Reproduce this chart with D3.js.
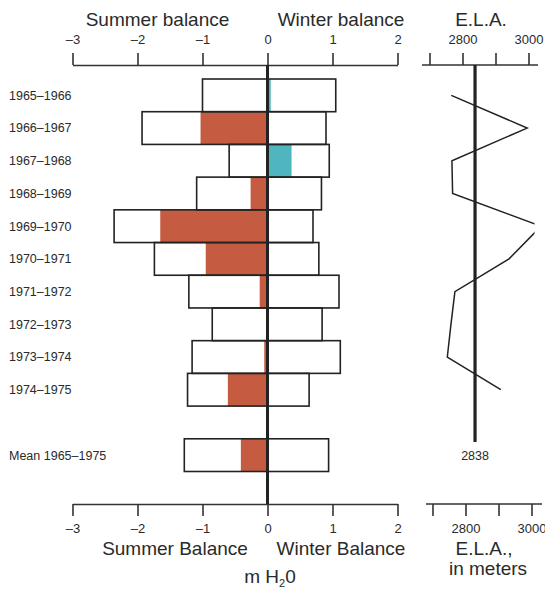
<!DOCTYPE html>
<html>
<head>
<meta charset="utf-8">
<script src="https://cdn.jsdelivr.net/npm/d3@7"></script>
<style>
  body { margin: 0; background: #fff; }
  svg { font-family: "Liberation Sans", Arial, sans-serif; }
  text { fill: #2a2a2a; }
</style>
</head>
<body>
<div id="chart"></div>
<script>
// Mass balance per year (m H2O) and equilibrium line altitude (m)
const years = ["1965–1966", "1966–1967", "1967–1968", "1968–1969", "1969–1970",
               "1970–1971", "1971–1972", "1972–1973", "1973–1974", "1974–1975"];
const summer = [-1.00, -1.93, -0.59, -1.09, -2.36, -1.74, -1.21, -0.85, -1.16, -1.23];
const winter = [1.05, 0.90, 0.95, 0.83, 0.70, 0.79, 1.10, 0.84, 1.12, 0.64];
const net = [0.05, -1.03, 0.37, -0.26, -1.65, -0.95, -0.12, -0.01, -0.05, -0.61];
const ela = [2766, 2996, 2768, 2770, 3038, 2941, 2777, 2765, 2754, 2916];

const meanLabel = "Mean 1965–1975";
const meanSummer = -1.28, meanWinter = 0.94, meanNet = -0.41, meanEla = 2838;

const balTicks = [-3, -2, -1, 0, 1, 2];
const elaTicks = [2700, 2800, 2900, 3000];
const elaLabelled = [2800, 3000];

const W = 545, H = 589;
const topAxisY = 65, bottomAxisY = 504;

const svg = d3.select("#chart").append("svg")
  .attr("width", W).attr("height", H);

// Scales
const x = d3.scaleLinear().domain([-3, 2]).range([72.5, 397.5]);
const xe = d3.scaleLinear().domain([2700, 3000]).range([429.5, 528.5]);
const y = d3.scaleBand()
  .domain([...years, "", meanLabel])
  .range([79, 471.5])
  .padding(0);

const fmt = d => d < 0 ? "–" + (-d) : String(d);

// Rows: all years plus mean
const rows = years.map((yr, i) => ({label: yr, s: summer[i], w: winter[i], n: net[i]}));
rows.push({label: meanLabel, s: meanSummer, w: meanWinter, n: meanNet});

// Net balance fill
svg.append("g").selectAll("rect")
  .data(rows)
  .join("rect")
  .attr("x", d => x(Math.min(0, d.n)))
  .attr("width", d => Math.abs(x(d.n) - x(0)))
  .attr("y", d => y(d.label))
  .attr("height", y.bandwidth())
  .attr("fill", d => d.n < 0 ? "#c55b41" : "#4fb5bf");

// Summer + winter outline boxes
svg.append("g").selectAll("rect")
  .data(rows)
  .join("rect")
  .attr("x", d => x(d.s))
  .attr("width", d => x(d.w) - x(d.s))
  .attr("y", d => y(d.label))
  .attr("height", y.bandwidth())
  .attr("fill", "none")
  .attr("stroke", "#222")
  .attr("stroke-width", 1.6);

// Row labels
svg.append("g").selectAll("text")
  .data(rows)
  .join("text")
  .attr("x", 9)
  .attr("y", d => y(d.label) + y.bandwidth() / 2)
  .attr("dy", "0.35em")
  .attr("font-size", "12.5px")
  .text(d => d.label);

// Balance axes
const topAx = svg.append("g")
  .attr("transform", `translate(0,${topAxisY})`)
  .call(d3.axisTop(x).tickValues(balTicks).tickFormat(fmt).tickSizeInner(12).tickSizeOuter(0).tickPadding(9));
const botAx = svg.append("g")
  .attr("transform", `translate(0,${bottomAxisY})`)
  .call(d3.axisBottom(x).tickValues(balTicks).tickFormat(fmt).tickSizeInner(12).tickSizeOuter(0).tickPadding(8));

// ELA axes
const elaTop = svg.append("g")
  .attr("transform", `translate(0,${topAxisY})`)
  .call(d3.axisTop(xe).tickValues(elaTicks)
    .tickFormat(d => elaLabelled.includes(d) ? d : "")
    .tickSizeInner(12).tickSizeOuter(0).tickPadding(9));
const elaBot = svg.append("g")
  .attr("transform", `translate(3,${bottomAxisY})`)
  .call(d3.axisBottom(xe).tickValues(elaTicks)
    .tickFormat(d => elaLabelled.includes(d) ? d : "")
    .tickSizeInner(12).tickSizeOuter(0).tickPadding(8));
elaTop.select(".domain").attr("d", "M422,0H538");
elaBot.select(".domain").attr("d", "M423,0H539");

[topAx, botAx, elaTop, elaBot].forEach(g => {
  g.selectAll("path, line").attr("stroke", "#333").attr("stroke-width", 1.6);
  g.selectAll("text").attr("font-size", "13px").attr("fill", "#2a2a2a")
    .attr("font-family", "\"Liberation Sans\", Arial, sans-serif");
});

// Zero line
svg.append("line")
  .attr("x1", x(0)).attr("x2", x(0))
  .attr("y1", topAxisY).attr("y2", bottomAxisY)
  .attr("stroke", "#222").attr("stroke-width", 3);

// ELA mean line
svg.append("line")
  .attr("x1", xe(meanEla)).attr("x2", xe(meanEla))
  .attr("y1", topAxisY).attr("y2", 442)
  .attr("stroke", "#222").attr("stroke-width", 3.2);
svg.append("text")
  .attr("x", xe(meanEla)).attr("y", y(meanLabel) + y.bandwidth() / 2)
  .attr("dy", "0.35em")
  .attr("text-anchor", "middle")
  .attr("font-size", "12.5px")
  .text(meanEla);

// ELA line (clipped at panel edge)
svg.append("clipPath").attr("id", "elaclip")
  .append("rect").attr("x", 400).attr("y", 60).attr("width", 134.5).attr("height", 400);
const line = d3.line()
  .x(d => xe(d.v))
  .y(d => y(d.label) + y.bandwidth() / 2);
svg.append("path")
  .datum(years.map((yr, i) => ({label: yr, v: ela[i]})))
  .attr("clip-path", "url(#elaclip)")
  .attr("fill", "none")
  .attr("stroke", "#222")
  .attr("stroke-width", 1.5)
  .attr("d", line);

// Titles
const title = (tx, ty, s, size) => svg.append("text")
  .attr("x", tx).attr("y", ty)
  .attr("text-anchor", "middle")
  .attr("font-size", size)
  .text(s);
title(157.5, 26, "Summer balance", "19px");
title(341, 26, "Winter balance", "19px");
title(481, 26, "E.L.A.", "19px");
title(175, 555, "Summer Balance", "19px");
title(341, 555, "Winter Balance", "19px");
title(484, 555, "E.L.A.,", "19px");
title(488, 575, "in meters", "19px");

const mh = svg.append("text")
  .attr("x", 270).attr("y", 583)
  .attr("text-anchor", "middle")
  .attr("font-size", "19px");
mh.append("tspan").text("m H");
mh.append("tspan").attr("font-size", "11px").attr("dy", 4).text("2");
mh.append("tspan").attr("dy", -4).text("0");
</script>
</body>
</html>
